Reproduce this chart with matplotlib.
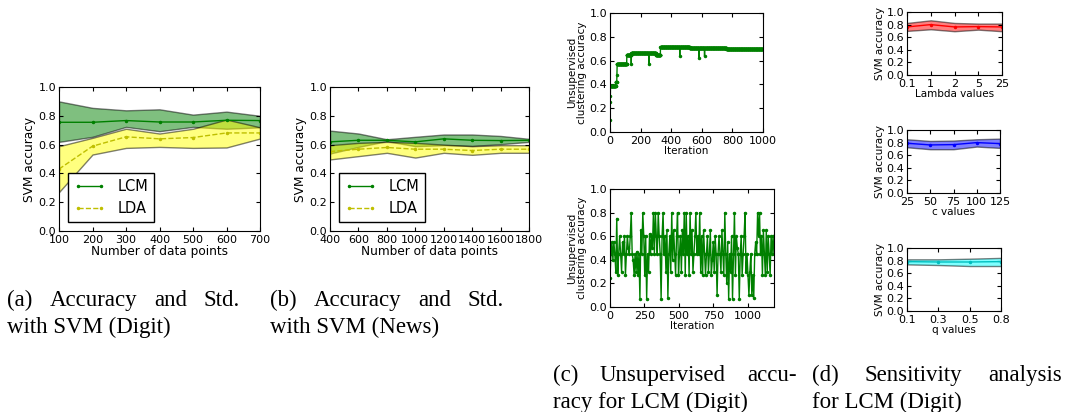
import matplotlib
matplotlib.use("Agg")
import matplotlib.pyplot as plt
import numpy as np

###########
# (a) SVM accuracy, Digit
a_points = [100, 200, 300, 400, 500, 600, 700]
a_lcm_mean = [0.755, 0.755, 0.767, 0.757, 0.757, 0.769, 0.767]
a_lcm_upper = [0.90, 0.855, 0.838, 0.845, 0.808, 0.829, 0.80]
a_lcm_lower = [0.619, 0.654, 0.723, 0.693, 0.723, 0.71, 0.72]
a_lda_mean = [0.43, 0.589, 0.654, 0.64, 0.649, 0.681, 0.681]
a_lda_upper = [0.589, 0.647, 0.71, 0.677, 0.71, 0.774, 0.72]
a_lda_lower = [0.27, 0.531, 0.577, 0.584, 0.577, 0.58, 0.642]

# (b) SVM accuracy, News
b_points = [400, 600, 800, 1000, 1200, 1400, 1600, 1800]
b_lcm_mean = [0.619, 0.63, 0.63, 0.619, 0.64, 0.63, 0.628, 0.63]
b_lcm_upper = [0.697, 0.677, 0.637, 0.654, 0.67, 0.67, 0.66, 0.64]
b_lcm_lower = [0.538, 0.584, 0.624, 0.589, 0.596, 0.591, 0.603, 0.619]
b_lda_mean = [0.552, 0.568, 0.58, 0.568, 0.568, 0.559, 0.568, 0.568]
b_lda_upper = [0.596, 0.612, 0.619, 0.612, 0.60, 0.589, 0.596, 0.596]
b_lda_lower = [0.497, 0.52, 0.543, 0.51, 0.543, 0.529, 0.543, 0.543]

# (c) top: plateaus (start iteration, accuracy) and single-iteration dips
c1_plateau_start = [0, 1, 2, 3, 38, 45, 46, 110, 140, 300, 330, 521, 761]
c1_plateau_value = [0.10, 0.25, 0.30, 0.39, 0.42, 0.48, 0.575, 0.65, 0.66, 0.65,
                    0.715, 0.705, 0.695]
c1_last_iter = 1000
c1_dip_iter = [139, 254, 456, 582, 618]
c1_dip_value = [0.575, 0.575, 0.635, 0.625, 0.635]

# (c) bottom: accuracy every 7 iterations
c2_step = 7
c2_values = [
    0.25, 0.45, 0.55, 0.40, 0.55, 0.45, 0.30, 0.75, 0.27, 0.45,
    0.60, 0.45, 0.30, 0.55, 0.45, 0.60, 0.27, 0.45, 0.60, 0.50,
    0.45, 0.60, 0.80, 0.45, 0.40, 0.27, 0.45, 0.30, 0.47, 0.27,
    0.45, 0.07, 0.65, 0.45, 0.80, 0.60, 0.27, 0.60, 0.07, 0.45,
    0.30, 0.62, 0.45, 0.60, 0.50, 0.80, 0.45, 0.80, 0.60, 0.45,
    0.80, 0.60, 0.45, 0.07, 0.60, 0.80, 0.45, 0.60, 0.30, 0.65,
    0.08, 0.45, 0.60, 0.30, 0.80, 0.40, 0.65, 0.45, 0.27, 0.60,
    0.80, 0.27, 0.45, 0.60, 0.30, 0.65, 0.45, 0.80, 0.27, 0.80,
    0.45, 0.60, 0.27, 0.80, 0.45, 0.65, 0.30, 0.45, 0.60, 0.80,
    0.45, 0.60, 0.45, 0.80, 0.30, 0.60, 0.27, 0.65, 0.45, 0.27,
    0.45, 0.60, 0.30, 0.45, 0.65, 0.27, 0.40, 0.55, 0.30, 0.60,
    0.45, 0.10, 0.45, 0.60, 0.45, 0.30, 0.65, 0.45, 0.27, 0.80,
    0.45, 0.20, 0.55, 0.07, 0.45, 0.30, 0.60, 0.07, 0.45, 0.80,
    0.27, 0.60, 0.50, 0.45, 0.07, 0.45, 0.60, 0.27, 0.45, 0.60,
    0.80, 0.30, 0.45, 0.27, 0.10, 0.30, 0.45, 0.10, 0.27, 0.08,
    0.45, 0.55, 0.45, 0.80, 0.60, 0.80, 0.45, 0.60, 0.27, 0.65,
    0.45, 0.27, 0.65, 0.30, 0.60, 0.45, 0.27, 0.60, 0.45, 0.60,
    0.45,
]

# (d) sensitivity analysis
lambda_labels = ["0.1", "1", "2", "5", "25"]
lambda_mean = [0.763, 0.80, 0.763, 0.768, 0.763]
lambda_upper = [0.826, 0.868, 0.826, 0.816, 0.816]
lambda_lower = [0.70, 0.726, 0.695, 0.72, 0.695]

c_values = [25, 50, 75, 100, 125]
c_mean = [0.79, 0.763, 0.768, 0.80, 0.784]
c_upper = [0.853, 0.826, 0.832, 0.853, 0.863]
c_lower = [0.726, 0.695, 0.695, 0.737, 0.716]

q_labels = ["0.1", "0.3", "0.5", "0.8"]
q_mean = [0.784, 0.778, 0.778, 0.784]
q_upper = [0.82, 0.82, 0.83, 0.843]
q_lower = [0.74, 0.73, 0.714, 0.714]

W, H = 1067, 412


def box(left, top, right, bottom):
    return [left / W, 1 - bottom / H, (right - left) / W, (bottom - top) / H]


def style_axes(ax, tick_fs=8):
    ax.tick_params(direction="in", top=True, right=True, length=3,
                   labelsize=tick_fs, pad=2)
    ax.tick_params(axis="x", pad=3)
    ax.set_ylim(0, 1)
    ax.set_yticks(np.arange(0, 1.01, 0.2))
    ax.set_yticklabels([f"{v:.1f}" for v in np.arange(0, 1.01, 0.2)])


def band(ax, x, mean, lower, upper, line_color, fill_color, ls="-"):
    line, = ax.plot(x, mean, color=line_color, ls=ls, marker=".", ms=3, lw=1)
    ax.fill_between(x, lower, upper, facecolor=fill_color, edgecolor="k",
                    alpha=0.5, lw=1)
    return line


def justified(fig, words, x0, x1, y, **kw):
    r = fig.canvas.get_renderer()
    texts = [fig.text(0, y, w, **kw) for w in words]
    widths = [t.get_window_extent(r).width / fig.bbox.width for t in texts]
    gap = (x1 - x0 - sum(widths)) / (len(words) - 1)
    x = x0
    for t, w in zip(texts, widths):
        t.set_x(x)
        x += w + gap


fig = plt.figure(figsize=(W / 100, H / 100), dpi=100)

# (a) and (b)
for rect, x, data in [
        (box(59, 87, 260, 231), a_points,
         (a_lcm_mean, a_lcm_lower, a_lcm_upper, a_lda_mean, a_lda_lower, a_lda_upper)),
        (box(330, 87, 529, 231), b_points,
         (b_lcm_mean, b_lcm_lower, b_lcm_upper, b_lda_mean, b_lda_lower, b_lda_upper))]:
    ax = fig.add_axes(rect)
    l1 = band(ax, x, data[0], data[1], data[2], "g", "g")
    l2 = band(ax, x, data[3], data[4], data[5], (0.75, 0.75, 0), "yellow", ls="--")
    style_axes(ax)
    ax.set_xlim(x[0], x[-1])
    ax.set_xticks(x)
    ax.set_xlabel("Number of data points", fontsize=8.7, labelpad=0)
    ax.set_ylabel("SVM accuracy", fontsize=8.7, labelpad=2)
    leg = ax.legend([l1, l2], ["LCM", "LDA"], loc="lower left", fontsize=10.5,
                    numpoints=2, fancybox=False, framealpha=1,
                    edgecolor="k", borderaxespad=0.6, handlelength=2.2)
    leg.get_frame().set_linewidth(1)

# (c) top
ax = fig.add_axes(box(610, 13, 763, 132))
c1_runs = np.diff(c1_plateau_start + [c1_last_iter + 1])
c1_acc = np.repeat(c1_plateau_value, c1_runs)
c1_acc[c1_dip_iter] = c1_dip_value
ax.plot(np.arange(len(c1_acc)), c1_acc, color="g", marker=".", ms=3, lw=1)
style_axes(ax)
ax.set_xlim(0, c1_last_iter)
ax.set_xticks(np.arange(0, 1001, 200))
ax.set_xlabel("Iteration", fontsize=7.5, labelpad=0)
ax.set_ylabel("Unsupervised\nclustering accuracy", fontsize=7.5,
              labelpad=2, linespacing=0.95)

# (c) bottom
ax = fig.add_axes(box(610, 189, 774, 307))
c2_iter = np.arange(len(c2_values)) * c2_step
ax.plot(c2_iter, c2_values, color="g", marker=".", ms=3, lw=1)
style_axes(ax)
ax.set_xlim(0, c2_iter[-1])
ax.set_xticks([0, 250, 500, 750, 1000])
ax.set_xlabel("Iteration", fontsize=7.5, labelpad=0)
ax.set_ylabel("Unsupervised\nclustering accuracy", fontsize=7.5,
              labelpad=2, linespacing=0.95)

# (d) sensitivity
for rect, x, labels, m, lo, up, lc, fc, xlabel in [
        (box(907, 12, 1002, 75), np.arange(len(lambda_labels)), lambda_labels,
         lambda_mean, lambda_lower, lambda_upper, "r", "red", "Lambda values"),
        (box(907, 130, 1000, 193), c_values, [str(v) for v in c_values],
         c_mean, c_lower, c_upper, "b", "blue", "c values"),
        (box(907, 248, 1001, 311), np.arange(len(q_labels)), q_labels,
         q_mean, q_lower, q_upper, (0, 0.75, 0.75), "cyan", "q values")]:
    ax = fig.add_axes(rect)
    band(ax, x, m, lo, up, lc, fc)
    style_axes(ax)
    ax.set_xlim(x[0], x[-1])
    ax.set_xticks(x)
    ax.set_xticklabels(labels)
    ax.set_xlabel(xlabel, fontsize=7.5, labelpad=0)
    ax.set_ylabel("SVM accuracy", fontsize=7.5, labelpad=1)

# captions
cap = dict(family="Liberation Serif", fontsize=16.5, va="baseline")
justified(fig, ["(a)", "Accuracy", "and", "Std."], 7 / W, 240 / W, 1 - 306 / H, **cap)
fig.text(7 / W, 1 - 333 / H, "with SVM (Digit)", **cap)
justified(fig, ["(b)", "Accuracy", "and", "Std."], 270 / W, 504 / W, 1 - 306 / H, **cap)
fig.text(270 / W, 1 - 333 / H, "with SVM (News)", **cap)
justified(fig, ["(c)", "Unsupervised", "accu-"], 553 / W, 797 / W, 1 - 381 / H, **cap)
fig.text(553 / W, 1 - 408 / H, "racy for LCM (Digit)", **cap)
justified(fig, ["(d)", "Sensitivity", "analysis"], 812 / W, 1062 / W, 1 - 381 / H, **cap)
fig.text(812 / W, 1 - 408 / H, "for LCM (Digit)", **cap)

fig.savefig("out.png", dpi=100)
